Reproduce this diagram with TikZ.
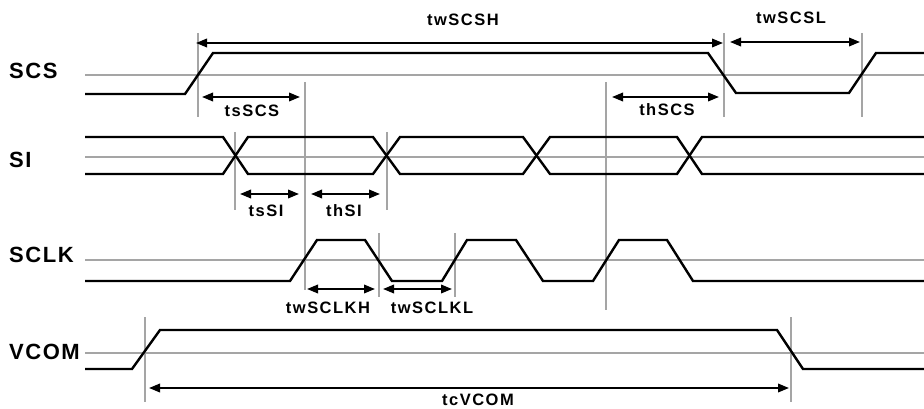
\documentclass[tikz,border=0pt]{standalone}
\usepackage{fontspec}
\setmainfont{Liberation Sans}
\newfontfamily\sigfont{Liberation Sans}[LetterSpace=7]
\newfontfamily\dimfont{Liberation Sans}[LetterSpace=9]
\usetikzlibrary{arrows.meta}
\definecolor{guide}{RGB}{165,165,165}
\tikzset{
  signame/.style={anchor=west, inner sep=0pt, font=\sigfont\bfseries\fontsize{22}{22}\selectfont},
  dimlabel/.style={inner sep=0pt, font=\dimfont\bfseries\fontsize{16.5}{16.5}\selectfont},
  wave/.style={line width=2.4pt},
  guideline/.style={guide, line width=1.2pt},
  dim/.style={line width=2pt, {Triangle[length=11pt,width=8.5pt]}-{Triangle[length=11pt,width=8.5pt]}}
}
\begin{document}
\begin{tikzpicture}[x=1pt, y=-1pt]
                \useasboundingbox (0, 0) rectangle (924, 409);

                % Signal names
                \node[signame] at (9, 71) (scs) {SCS};
                \node[signame] at (9, 160) (si) {SI};
                \node[signame] at (9, 255) (sclk) {SCLK};
                \node[signame] at (9, 352) (vcom) {VCOM};

                % Reference levels
                \draw[guideline] (85, 75) -- (924, 75);
                \draw[guideline] (85, 157) -- (924, 157);
                \draw[guideline] (85, 260) -- (924, 260);
                \draw[guideline] (85, 353) -- (924, 353);

                % Timing marks
                \draw[guideline] (198, 33) -- (198, 117);
                \draw[guideline] (724, 33) -- (724, 117);
                \draw[guideline] (862, 33) -- (862, 117);
                \draw[guideline] (305, 82) -- (305, 290);
                \draw[guideline] (606, 82) -- (606, 310);
                \draw[guideline] (235, 132) -- (235, 210);
                \draw[guideline] (387, 132) -- (387, 210);
                \draw[guideline] (379, 233) -- (379, 297);
                \draw[guideline] (455, 233) -- (455, 297);
                \draw[guideline] (145, 317) -- (145, 402);
                \draw[guideline] (791, 317) -- (791, 402);

                % Waveforms
                \draw[wave] (85, 94) -- (185, 94) -- (213, 53) -- (708, 53) -- (736, 93) -- (849, 93) -- (876, 53) -- (924, 53);
                \draw[wave] (85, 137) -- (223, 137) -- (248, 174) -- (373, 174) -- (400, 137) -- (523, 137) -- (550, 174) -- (677, 174) -- (702, 137) -- (924, 137);
                \draw[wave] (85, 174) -- (223, 174) -- (248, 137) -- (373, 137) -- (400, 174) -- (523, 174) -- (550, 137) -- (677, 137) -- (702, 174) -- (924, 174);
                \draw[wave] (85, 281) -- (290, 281) -- (317, 240) -- (365, 240) -- (392, 281) -- (442, 281) -- (467, 240) -- (516, 240) -- (543, 281) -- (593, 281) -- (619, 240) -- (667, 240) -- (693, 281) -- (924, 281);
                \draw[wave] (85, 369) -- (132, 369) -- (160, 330) -- (777, 330) -- (803, 369) -- (924, 369);

                % Arrow ends
                \coordinate (twscshA) at (196, 43);
                \coordinate (twscshB) at (723, 43);
                \coordinate (twscslA) at (730, 42);
                \coordinate (twscslB) at (860, 42);
                \coordinate (tsscsA) at (202, 97);
                \coordinate (tsscsB) at (300, 97);
                \coordinate (thscsA) at (612, 97);
                \coordinate (thscsB) at (719, 97);
                \coordinate (tssiA) at (240, 194);
                \coordinate (tssiB) at (299, 194);
                \coordinate (thsiA) at (311, 194);
                \coordinate (thsiB) at (380, 194);
                \coordinate (twsclkhA) at (307, 289);
                \coordinate (twsclkhB) at (375, 289);
                \coordinate (twsclklA) at (383, 289);
                \coordinate (twsclklB) at (452, 289);
                \coordinate (tcvcomA) at (149, 388);
                \coordinate (tcvcomB) at (789, 388);

                \draw[dim] (twscshA) -- (twscshB);
                \draw[dim] (twscslA) -- (twscslB);
                \draw[dim] (tsscsA) -- (tsscsB);
                \draw[dim] (thscsA) -- (thscsB);
                \draw[dim] (tssiA) -- (tssiB);
                \draw[dim] (thsiA) -- (thsiB);
                \draw[dim] (twsclkhA) -- (twsclkhB);
                \draw[dim] (twsclklA) -- (twsclklB);
                \draw[dim] (tcvcomA) -- (tcvcomB);

                % Labels
                \node[dimlabel] at (463, 20) (twscsh) {twSCSH};
                \node[dimlabel] at (791, 18) (twscsl) {twSCSL};
                \node[dimlabel] at (252, 111) (tsscs) {tsSCS};
                \node[dimlabel] at (667, 110) (thscs) {thSCS};
                \node[dimlabel] at (266, 211) (tssi) {tsSI};
                \node[dimlabel] at (344, 211) (thsi) {thSI};
                \node[dimlabel] at (328, 308) (twsclkh) {twSCLKH};
                \node[dimlabel] at (432, 308) (twsclkl) {twSCLKL};
                \node[dimlabel] at (478, 400) (tcvcom) {tcVCOM};

            \end{tikzpicture}
\end{document}
